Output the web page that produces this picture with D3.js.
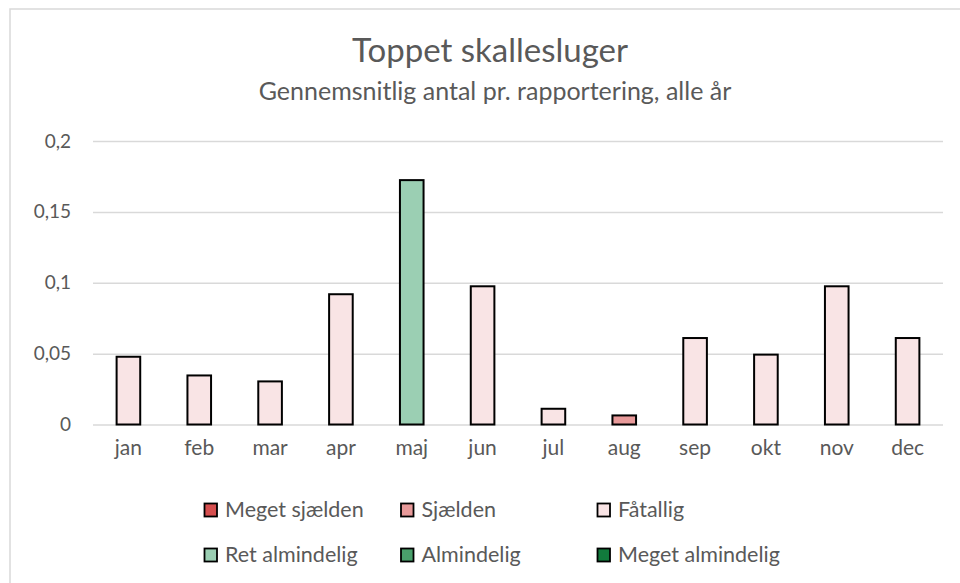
<!DOCTYPE html>
<html>
<head>
<meta charset="utf-8">
<script src="https://cdn.jsdelivr.net/npm/d3@7"></script>
<style>
  body { margin: 0; background: #fff; }
  text { font-family: Lato, "Open Sans", sans-serif; fill: #595959; }
</style>
</head>
<body>
<script>
var months = ["jan", "feb", "mar", "apr", "maj", "jun", "jul", "aug", "sep", "okt", "nov", "dec"];
var values = [0.0478, 0.0346, 0.0304, 0.0919, 0.1724, 0.0975, 0.0111, 0.0064, 0.061, 0.0493, 0.0975, 0.061];
var classes = ["Fåtallig", "Fåtallig", "Fåtallig", "Fåtallig", "Ret almindelig", "Fåtallig",
               "Fåtallig", "Sjælden", "Fåtallig", "Fåtallig", "Fåtallig", "Fåtallig"];
var legendNames = ["Meget sjælden", "Sjælden", "Fåtallig", "Ret almindelig", "Almindelig", "Meget almindelig"];
var legendColors = ["#d64f4f", "#e89a9a", "#f9e4e5", "#9bcfb3", "#4aa06c", "#117a3c"];
var yTicks = [0, 0.05, 0.1, 0.15, 0.2];

var width = 960, height = 583;
var margin = {top: 141, right: 17, bottom: 158.5, left: 93};

var svg = d3.select("body").append("svg")
    .attr("width", width)
    .attr("height", height);

// chart frame (only top/left edges visible)
svg.append("rect")
    .attr("x", 10).attr("y", 9)
    .attr("width", 1000).attr("height", 1000)
    .attr("fill", "#fff")
    .attr("stroke", "#d9d9d9")
    .attr("stroke-width", 1.5);

var color = d3.scaleOrdinal().domain(legendNames).range(legendColors);

var x = d3.scaleBand()
    .domain(months)
    .range([margin.left, width - margin.right])
    .paddingInner(2 / 3)
    .paddingOuter(1 / 3);

var y = d3.scaleLinear()
    .domain([0, 0.2])
    .range([height - margin.bottom, margin.top]);

var fmt = function(d) { return d === 0 ? "0" : String(d).replace(".", ","); };

// title
svg.append("text")
    .attr("x", 490).attr("y", 62)
    .attr("text-anchor", "middle")
    .style("font-size", "33px")
    .text("Toppet skallesluger");

svg.append("text")
    .attr("x", 495).attr("y", 100)
    .attr("text-anchor", "middle")
    .style("font-size", "25px")
    .text("Gennemsnitlig antal pr. rapportering, alle år");

// gridlines + y axis
var yAxis = d3.axisLeft(y)
    .tickValues(yTicks)
    .tickFormat(fmt)
    .tickSize(-(width - margin.right - margin.left))
    .tickPadding(22);

var gy = svg.append("g")
    .attr("transform", "translate(" + margin.left + ",0)")
    .call(yAxis);
gy.select(".domain").remove();
gy.selectAll("line").attr("stroke", "#d9d9d9").attr("stroke-width", 1.5);
gy.selectAll("text").style("font-size", "19px").attr("fill", "#595959");

// bars
svg.append("g").selectAll("rect")
  .data(months)
  .join("rect")
    .attr("x", function(d) { return x(d); })
    .attr("y", function(d, i) { return y(values[i]); })
    .attr("width", x.bandwidth())
    .attr("height", function(d, i) { return y(0) - y(values[i]); })
    .attr("fill", function(d, i) { return color(classes[i]); })
    .attr("stroke", "#000")
    .attr("stroke-width", 2);

// x axis labels
var xAxis = d3.axisBottom(x).tickSize(0).tickPadding(16);
var gx = svg.append("g")
    .attr("transform", "translate(0," + y(0) + ")")
    .call(xAxis);
gx.select(".domain").remove();
gx.selectAll("text").style("font-size", "21px").attr("fill", "#595959");

// legend
var legend = svg.append("g");
var item = legend.selectAll("g")
  .data(legendNames)
  .join("g")
    .attr("transform", function(d, i) {
      return "translate(" + (204 + (i % 3) * 196.5) + "," + (517 + Math.floor(i / 3) * 45) + ")";
    });

item.append("rect")
    .attr("x", 0.5).attr("y", -13.5)
    .attr("width", 12.5).attr("height", 13)
    .attr("fill", function(d) { return color(d); })
    .attr("stroke", "#000")
    .attr("stroke-width", 1.8);

item.append("text")
    .attr("x", 21).attr("y", 0)
    .style("font-size", "21.5px")
    .text(function(d) { return d; });
</script>
</body>
</html>
